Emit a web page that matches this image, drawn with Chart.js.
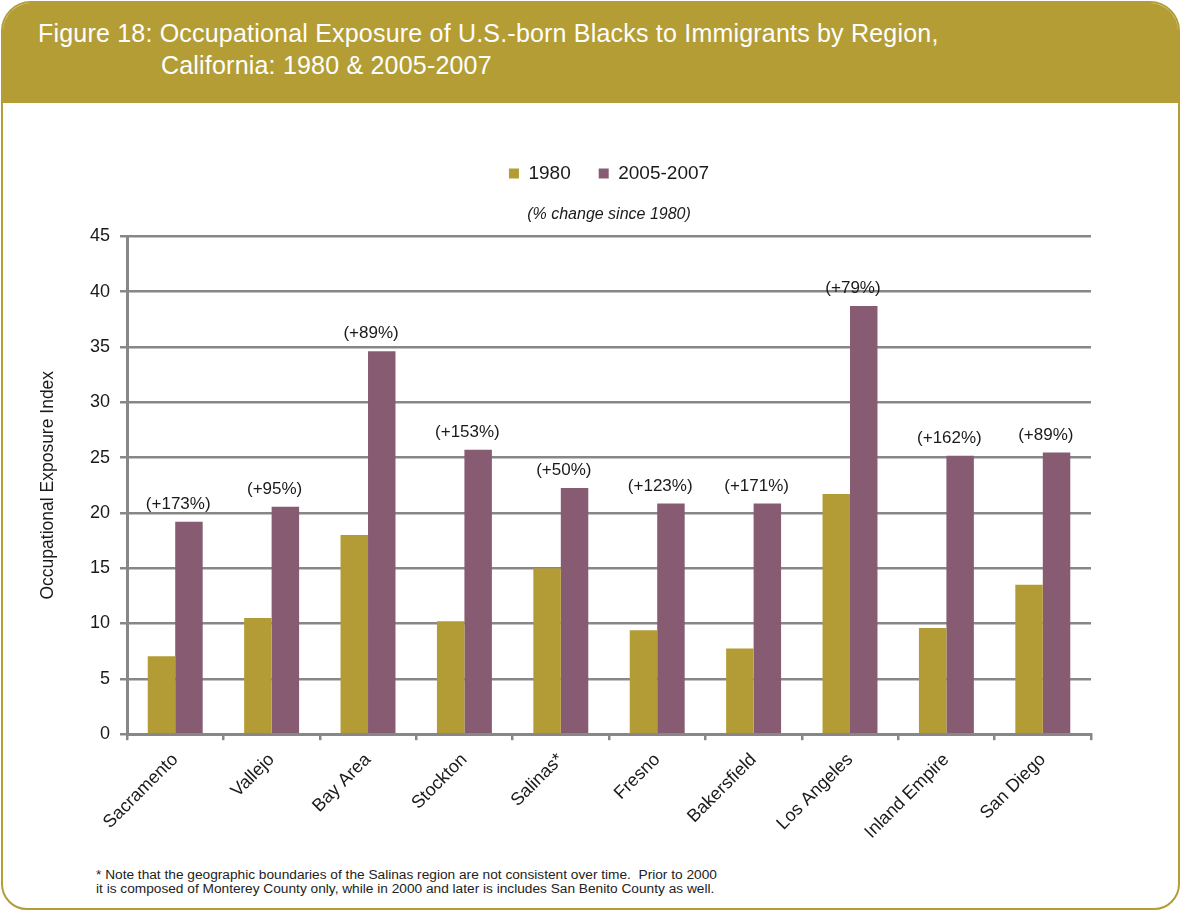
<!DOCTYPE html>
<html>
<head>
<meta charset="utf-8">
<script src="https://cdn.jsdelivr.net/npm/chart.js@4.4.1/dist/chart.umd.min.js"></script>
<style>
    html, body { margin: 0; padding: 0; background: #fff; }
    body { width: 1181px; height: 911px; position: relative; overflow: hidden; }
    .frame {
        position: absolute; left: 1px; top: 1px; width: 1175px; height: 905px;
        border: 2px solid #B49D35; border-radius: 30px 30px 26px 26px; overflow: hidden;
    }
    .header {
        position: absolute; left: 0; top: 0; right: 0; height: 100px;
        background: #B49D35; color: #fff;
        font-family: "Liberation Sans", Arial, sans-serif;
        font-size: 25px; line-height: 33px; letter-spacing: 0.2px;
    }
    .header .l1 { position: absolute; left: 35px; top: 14px; white-space: nowrap; }
    .header .l2 { position: absolute; left: 158px; top: 46px; white-space: nowrap; }
    .chart-box { position: absolute; left: 38px; top: 136px; width: 1134px; height: 716px; }
    .note {
        position: absolute; left: 96px; top: 868px;
        font-family: "Liberation Sans", Arial, sans-serif;
        font-size: 13.7px; line-height: 14px; color: #222;
    }
</style>
</head>
<body>
<div class="frame">
    <div class="header">
        <div class="l1">Figure 18: Occupational Exposure of U.S.-born Blacks to Immigrants by Region,</div>
        <div class="l2">California: 1980 &amp; 2005-2007</div>
    </div>
</div>
<div class="chart-box"><canvas id="chart-exposure"></canvas></div>
<div class="note">
    * Note that the geographic boundaries of the Salinas region are not consistent over time.&nbsp; Prior to 2000<br>
    it is composed of Monterey County only, while in 2000 and later is includes San Benito County as well.
</div>
<script>
const regions = ['Sacramento', 'Vallejo', 'Bay Area', 'Stockton', 'Salinas*',
    'Fresno', 'Bakersfield', 'Los Angeles', 'Inland Empire', 'San Diego'];
const values1980 = [7.05, 10.5, 18.0, 10.2, 15.0, 9.4, 7.75, 21.7, 9.6, 13.5];
const values2005 = [19.2, 20.55, 34.6, 25.7, 22.25, 20.85, 20.85, 38.7, 25.15, 25.45];
const changeLabels = ['(+173%)', '(+95%)', '(+89%)', '(+153%)', '(+50%)',
    '(+123%)', '(+171%)', '(+79%)', '(+162%)', '(+89%)'];
const yTicks = [0, 5, 10, 15, 20, 25, 30, 35, 40, 45];

const GOLD = '#B39C35';
const MAUVE = '#875C73';
const GRID = '#878787';
const FONT = "'Liberation Sans', Arial, sans-serif";

// writes the % change over each region's pair of bars
const changeLabelPlugin = {
    id: 'changeLabels',
    afterDatasetsDraw(chart) {
        const ctx = chart.ctx;
        const xScale = chart.scales.x;
        const meta = chart.getDatasetMeta(1);
        ctx.save();
        ctx.font = '17px ' + FONT;
        ctx.fillStyle = '#1a1a1a';
        ctx.textAlign = 'center';
        ctx.textBaseline = 'bottom';
        meta.data.forEach((bar, i) => {
            const x = xScale.getPixelForValue(i) + 3;
            ctx.fillText(changeLabels[i], x, bar.y - 9);
        });
        ctx.restore();
    }
};

function createChart(context) {
    const data = {
        labels: regions,
        datasets: [
            { label: '1980', data: values1980, backgroundColor: GOLD },
            { label: '2005-2007', data: values2005, backgroundColor: MAUVE },
        ]
    };
    const options = {
        responsive: true,
        maintainAspectRatio: false,
        animation: false,
        devicePixelRatio: 1,
        layout: { padding: { left: 0, right: 81, top: 0, bottom: 0 } },
        datasets: {
            bar: { categoryPercentage: 0.57, barPercentage: 1.0 }
        },
        plugins: {
            legend: {
                position: 'top',
                fullSize: false,
                labels: {
                    boxWidth: 10, boxHeight: 10, padding: 28,
                    color: '#1a1a1a', font: { family: FONT, size: 19 }
                }
            },
            subtitle: {
                display: true,
                text: '(% change since 1980)',
                weight: 500,
                fullSize: false,
                color: '#1a1a1a',
                font: { family: FONT, size: 16, style: 'italic' },
                padding: { top: 12, bottom: 12 }
            },
            tooltip: { enabled: false }
        },
        scales: {
            x: {
                offset: true,
                grid: {
                    offset: true, drawOnChartArea: false, drawTicks: true,
                    tickLength: 6, color: GRID, lineWidth: 2.5
                },
                border: { color: GRID, width: 3 },
                ticks: {
                    minRotation: 45, maxRotation: 45, padding: 9,
                    color: '#1a1a1a', font: { family: FONT, size: 18 }
                }
            },
            y: {
                min: 0, max: 45,
                afterBuildTicks(scale) {
                    scale.ticks = yTicks.map(v => ({ value: v }));
                },
                grid: { color: GRID, lineWidth: 2.5, tickLength: 7 },
                border: { color: GRID, width: 3 },
                ticks: {
                    padding: 10, color: '#1a1a1a', font: { family: FONT, size: 18 }
                },
                title: {
                    display: true, text: 'Occupational Exposure Index',
                    color: '#1a1a1a', font: { family: FONT, size: 17.5 },
                    padding: { top: 0, bottom: 21 }
                }
            }
        }
    };
    return new Chart(context, { type: 'bar', data, options, plugins: [changeLabelPlugin] });
}

const elChart = document.getElementById('chart-exposure');
const chart = createChart(elChart);
</script>
</body>
</html>
